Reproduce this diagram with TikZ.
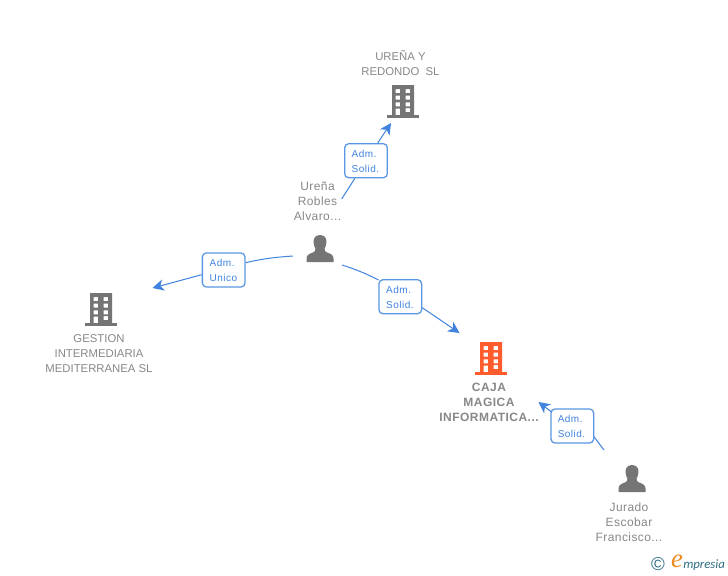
\documentclass[tikz,border=0pt]{standalone}
\usepackage{fontspec}
\setmainfont{Liberation Sans}
\newfontfamily\lowerfont[LetterSpace=3.5]{Liberation Sans}
\newfontfamily\boxfont[LetterSpace=5]{Liberation Sans}
\newfontfamily\heavyfont[LetterSpace=4,BoldFont={Liberation Sans Bold}]{Liberation Sans}
\newfontfamily\logofont{Carlito}
\newfontfamily\logoefont{Liberation Serif}
\definecolor{edgeblue}{HTML}{3F83DF}
\definecolor{boxblue}{HTML}{5A96E3}
\definecolor{labelgray}{HTML}{888888}
\definecolor{icongray}{HTML}{757575}
\definecolor{iconorange}{HTML}{FF5C2E}
\definecolor{logoteal}{HTML}{2F6F85}
\definecolor{logoorange}{HTML}{EE8A1D}
\usetikzlibrary{arrows.meta}
\tikzset{
  x=0.75pt,y=-0.75pt,
  nodelabel/.style={text=labelgray,align=center,inner sep=0pt,font=\fontsize{8.5}{11.25}\selectfont},
  mixedlabel/.style={nodelabel,font=\fontsize{9}{11.25}\selectfont\lowerfont},
  boldlabel/.style={nodelabel,font=\fontsize{9}{11.25}\selectfont\heavyfont\bfseries},
  relbox/.style={draw=boxblue,line width=0.95pt,rounded corners=3pt,fill=white,minimum width=32pt,minimum height=25.5pt,inner sep=0pt,text=edgeblue},
  reltext/.style={text=edgeblue,inner sep=0pt,align=left,font=\fontsize{7.5}{11.25}\selectfont\boxfont},
  rel/.style={draw=edgeblue,line width=0.75pt},
  relarrow/.style={rel,-{Stealth[length=8.5pt,width=8.5pt,inset=2.5pt]}},
  pics/bldg/.style={code={
    \fill[#1,even odd rule]
      (-11,-16) rectangle (11,14)
      (-7.3,-12) rectangle (-3,-8)
      (2.7,-12) rectangle (7,-8)
      (-7.3,-5.3) rectangle (-3,-1.3)
      (2.7,-5.3) rectangle (7,-1.3)
      (-7.3,1.3) rectangle (-3,5.3)
      (2.7,1.3) rectangle (7,5.3)
      (-7.3,7.7) rectangle (-3,14)
      (2.7,7) rectangle (7,11);
    \fill[#1] (-16,14) rectangle (16,17);
  }},
  pics/person/.style={code={
    \fill[#1] (0,-14) .. controls (-6,-14) and (-7,-9) .. (-6.3,-5.5)
      .. controls (-5.9,-3) and (-5.2,-1.5) .. (-4.6,-0.5)
      .. controls (-4.6,1.5) and (-5,2.5) .. (-6.5,3.2)
      .. controls (-10,4.6) and (-13.5,5.6) .. (-13.5,9.5)
      -- (-13.5,13) -- (13.5,13) -- (13.5,9.5)
      .. controls (13.5,5.6) and (10,4.6) .. (6.5,3.2)
      .. controls (5,2.5) and (4.6,1.5) .. (4.6,-0.5)
      .. controls (5.2,-1.5) and (5.9,-3) .. (6.3,-5.5)
      .. controls (7,-9) and (6,-14) .. (0,-14) -- cycle;
  }}
}
\begin{document}
\begin{tikzpicture}
\useasboundingbox[fill=white] (0,0) rectangle (728,575);
% icons
\pic at (403,101) {bldg=icongray};
\pic at (101,309) {bldg=icongray};
\pic at (491,358) {bldg=iconorange};
\pic at (320,249) {person=icongray};
\pic at (632,479) {person=icongray};
% entity labels
\node[nodelabel] (urenay) at (400.5,63.5) {UREÑA Y\\REDONDO\ \ SL};
\node[mixedlabel] (urenar) at (317.5,201) {Ureña\\Robles\\Alvaro...};
\node[nodelabel] (gestion) at (99,353.7) {GESTION\\INTERMEDIARIA\\MEDITERRANEA SL};
\node[boldlabel] (caja) at (489,402) {CAJA\\MAGICA\\INFORMATICA...};
\node[mixedlabel] (jurado) at (629,522) {Jurado\\Escobar\\Francisco...};
% relation boxes
\node[relbox] (r1) at (366,160.7) {};
\node[relbox] (r2) at (223.7,270) {};
\node[relbox] (r3) at (400.3,296.7) {};
\node[relbox] (r4) at (572.3,426) {};
\node[reltext] at (365.5,161.5) {Adm.\\Solid.};
\node[reltext] at (223.5,270.5) {Adm.\\Unico};
\node[reltext] at (400,297.5) {Adm.\\Solid.};
\node[reltext] at (571.5,426.8) {Adm.\\Solid.};
% connector free ends
\coordinate (a1) at (341.7,199);
\coordinate (t1) at (391,123);
\coordinate (a2) at (293,256);
\coordinate (a2e) at (245.7,262.7);
\coordinate (a2w) at (201.7,274.7);
\coordinate (t2) at (152.5,288);
\coordinate (a3) at (342,265);
\coordinate (a3w) at (378.5,280);
\coordinate (a3e) at (422.3,307.7);
\coordinate (t3) at (459.5,333);
\coordinate (a4) at (604,450);
\coordinate (a4e) at (594,436.7);
\coordinate (a4w) at (551,411.5);
\coordinate (t4) at (538.5,402);
% connectors
\draw[rel] (a1) -- (r1);
\draw[relarrow] (r1) -- (t1);
\draw[rel] (a2) .. controls (270,257.5) and (257,260) .. (a2e);
\draw[relarrow] (a2w) -- (t2);
\draw[rel] (a3) .. controls (355,269) and (367,274) .. (a3w);
\draw[relarrow] (a3e) -- (t3);
\draw[rel] (a4) -- (a4e);
\draw[relarrow] (a4w) -- (t4);
% logo
\node[text=logoteal,inner sep=0pt,font=\fontsize{14}{14}\selectfont] (copy) at (658,564) {©};
\node[text=logoorange,inner sep=0pt,font=\fontsize{20}{20}\selectfont\logoefont\itshape] (logoe) at (677,561) {e};
\node[text=logoteal,inner sep=0pt,anchor=west,font=\fontsize{9.6}{10}\selectfont\logofont\itshape] (logot) at (683,565) {mpresia};
\end{tikzpicture}
\end{document}
